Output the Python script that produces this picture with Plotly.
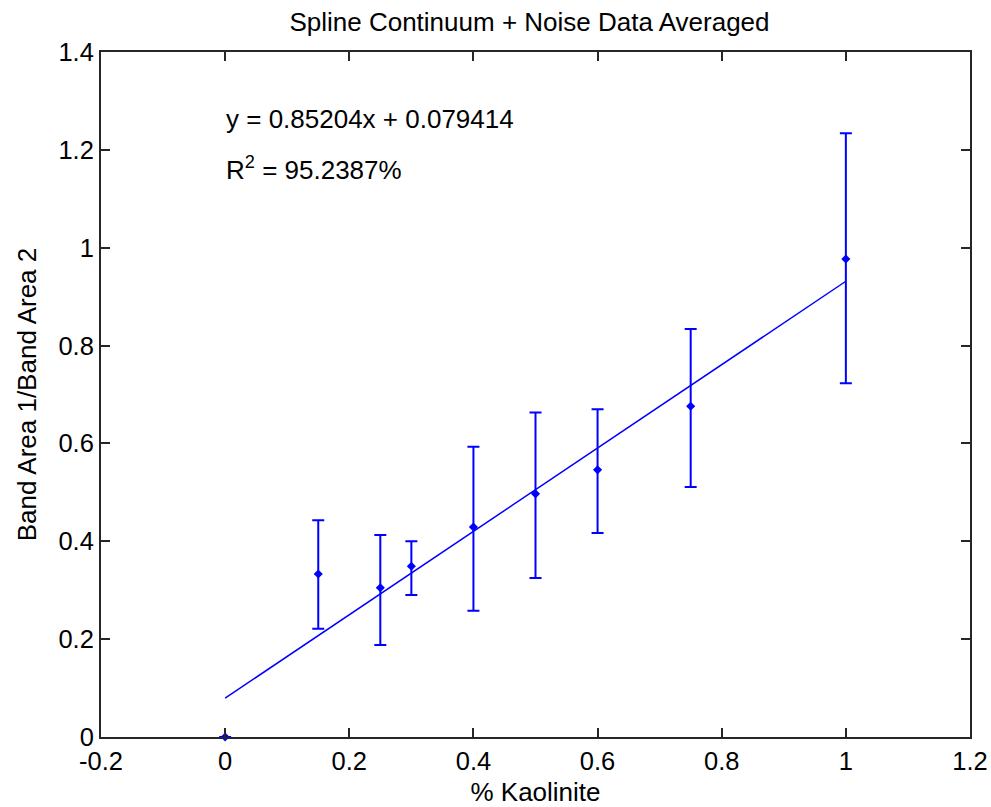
import plotly.graph_objects as go

# Data
kaolinite = [0, 0.15, 0.25, 0.3, 0.4, 0.5, 0.6, 0.75, 1.0]
ratio = [0.0, 0.333, 0.305, 0.349, 0.429, 0.497, 0.546, 0.676, 0.977]
upper = [0.0, 0.443, 0.413, 0.400, 0.593, 0.663, 0.670, 0.834, 1.234]
lower = [0.0, 0.221, 0.188, 0.290, 0.258, 0.325, 0.417, 0.511, 0.723]
slope = 0.85204
intercept = 0.079414
fit_x = [0, 1]
fit_y = [intercept + slope * v for v in fit_x]
x_ticks = [-0.2, 0, 0.2, 0.4, 0.6, 0.8, 1, 1.2]
x_tick_labels = ["-0.2", "0", "0.2", "0.4", "0.6", "0.8", "1", "1.2"]
y_ticks = [0, 0.2, 0.4, 0.6, 0.8, 1, 1.2, 1.4]
y_tick_labels = ["0", "0.2", "0.4", "0.6", "0.8", "1", "1.2", "1.4"]

err_plus = [u - r for u, r in zip(upper, ratio)]
err_minus = [r - l for r, l in zip(ratio, lower)]

blue = "rgb(0,0,255)"
font_family = "Liberation Sans, Arial, sans-serif"
FS = 26
TFS = 25.5

fig = go.Figure()
fig.add_trace(go.Scatter(
    x=kaolinite, y=ratio, mode="markers",
    marker=dict(color=blue, size=7, symbol="diamond"),
    error_y=dict(type="data", symmetric=False, array=err_plus, arrayminus=err_minus,
                 color=blue, thickness=2, width=6),
    showlegend=False, cliponaxis=False,
))
fig.add_trace(go.Scatter(
    x=fit_x, y=fit_y, mode="lines",
    line=dict(color=blue, width=1.5), showlegend=False,
))

fig.add_annotation(x=-0.002, y=1.263, xref="x", yref="y", xanchor="left", yanchor="middle",
                   text="y = 0.85204x + 0.079414", showarrow=False,
                   font=dict(family=font_family, size=FS, color="black"))
fig.add_annotation(x=-0.002, y=1.124, xref="x", yref="y", xanchor="left", yanchor="bottom",
                   text="R<sup>2</sup> = 95.2387%", showarrow=False,
                   font=dict(family=font_family, size=FS, color="black"))

axis_common = dict(
    showgrid=False, zeroline=False, showline=True, linecolor="#262626", linewidth=2,
    mirror="ticks", ticks="inside", ticklen=9, tickwidth=2, tickcolor="#262626",
    tickfont=dict(family=font_family, size=TFS, color="black"),
    ticklabeloverflow="allow", automargin=False,
)

fig.update_layout(
    width=991, height=807,
    margin=dict(l=101, r=21, t=52, b=70, autoexpand=False),
    paper_bgcolor="white", plot_bgcolor="white",
    hovermode=False,
    title=dict(text="Spline Continuum + Noise Data Averaged", x=0.5343, xref="container",
               xanchor="center", y=0.9727, yref="container", yanchor="middle",
               font=dict(family=font_family, size=FS, color="black")),
    xaxis=dict(range=[-0.2, 1.2], tickvals=x_ticks, ticktext=x_tick_labels,
               title=dict(text="% Kaolinite", standoff=10,
                          font=dict(family=font_family, size=FS, color="black")),
               **axis_common),
    yaxis=dict(range=[0, 1.4], tickvals=y_ticks, ticktext=y_tick_labels,
               title=dict(text="Band Area 1/Band Area 2", standoff=14,
                          font=dict(family=font_family, size=FS, color="black")),
               **axis_common),
)

fig.write_html(
    "out.html",
    config={"displayModeBar": False},
    post_script="document.body.style.margin='0';document.documentElement.style.overflow='hidden';document.body.style.overflow='hidden';",
)
